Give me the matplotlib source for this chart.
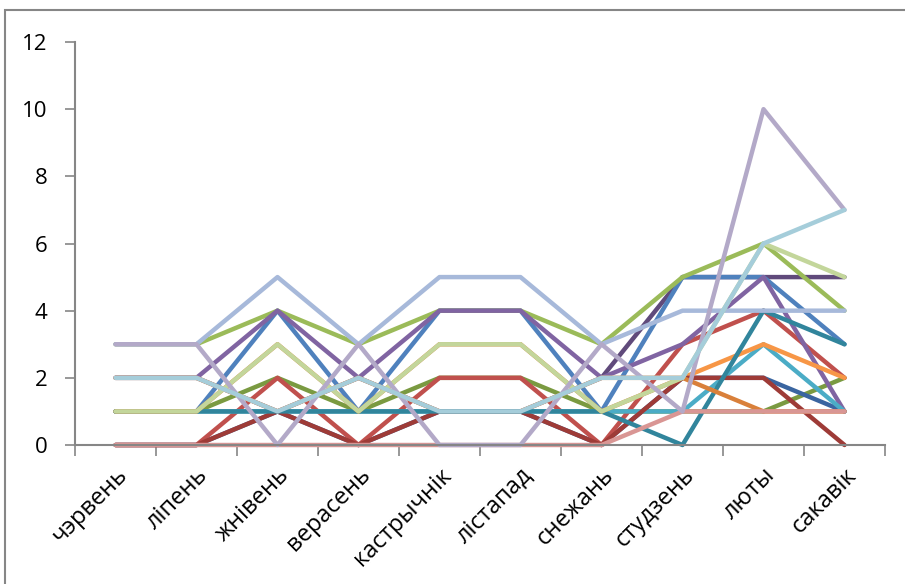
import matplotlib
matplotlib.use("Agg")
import matplotlib.pyplot as plt
from matplotlib.patches import Rectangle

plt.rcParams['font.family'] = ['Open Sans', 'DejaVu Sans']

months = ["чэрвень", "ліпень", "жнівень", "верасень", "кастрычнік",
          "лістапад", "снежань", "студзень", "люты", "сакавік"]

s_dkpurple   = [2, 2, 1, 2, 1, 1, 2, 5, 5, 5]
s_dkgreen    = [1, 1, 2, 1, 2, 2, 1, 1, 1, 2]
s_dkblue     = [0, 0, 1, 0, 1, 1, 0, 2, 2, 1]
s_blue       = [1, 1, 4, 1, 4, 4, 1, 5, 5, 3]
s_red        = [0, 0, 2, 0, 2, 2, 0, 3, 4, 2]
s_green      = [3, 3, 4, 3, 4, 4, 3, 5, 6, 4]
s_purple     = [2, 2, 4, 2, 4, 4, 2, 3, 5, 1]
s_aqua       = [1, 1, 1, 1, 1, 1, 1, 1, 3, 1]
s_orange     = [2, 2, 1, 2, 1, 1, 2, 2, 3, 2]
s_dkred      = [0, 0, 1, 0, 1, 1, 0, 2, 2, 0]
s_teal       = [1, 1, 1, 1, 1, 1, 1, 0, 4, 3]
s_dkorange   = [1, 1, 3, 1, 3, 3, 1, 2, 1, 1]
s_ltblue     = [3, 3, 5, 3, 5, 5, 3, 4, 4, 4]
s_pink       = [0, 0, 0, 0, 0, 0, 0, 1, 1, 1]
s_ltgreen    = [1, 1, 3, 1, 3, 3, 1, 2, 6, 5]
s_ltpurple   = [3, 3, 0, 3, 0, 0, 3, 1, 10, 7]
s_ltaqua     = [2, 2, 1, 2, 1, 1, 2, 2, 6, 7]

# drawing order: later ones on top
series = [s_dkpurple, s_dkgreen, s_dkblue, s_blue, s_red, s_green, s_purple,
          s_aqua, s_orange, s_dkred, s_teal, s_dkorange,
          s_ltblue, s_pink, s_ltgreen, s_ltpurple, s_ltaqua]
colors = ["#604A7B", "#7A9A41", "#3A65A0", "#4F81BD", "#C0504D", "#9BBB59",
          "#8064A2", "#4BACC6", "#F79646", "#9E3B37", "#31859C", "#D9803A",
          "#A7B9DA", "#D99694", "#C3D69B", "#B3A9C8", "#A5CDDA"]

fig = plt.figure(figsize=(9.05, 5.84), dpi=100)
ax = fig.add_axes([75 / 905, 1 - 445 / 584, 810 / 905, 403 / 584])

x = range(len(months))
for vals, c in zip(series, colors):
    ax.plot(x, vals, color=c, lw=3.2, solid_capstyle='round',
            solid_joinstyle='round', clip_on=False)

ax.set_xlim(-0.5, len(months) - 0.5)
ax.set_ylim(0, 12)
ax.set_yticks(range(0, 13, 2))
ax.tick_params(axis='y', labelsize=16, length=7, width=1.2, color='#868686', pad=13)

ax.set_xticks(x)
ax.set_xticklabels(months, rotation=45, ha='right', va='top',
                   rotation_mode='anchor', fontsize=17)
ax.tick_params(axis='x', length=0, pad=13)
# category boundary ticks
ax.set_xticks([i - 0.5 for i in range(len(months) + 1)], minor=True)
ax.tick_params(axis='x', which='minor', length=8, width=1.2, color='#868686')

for side in ['top', 'right']:
    ax.spines[side].set_visible(False)
for side in ['left', 'bottom']:
    ax.spines[side].set_color('#868686')
    ax.spines[side].set_linewidth(1.5)

# chart area border
fig.patches.append(Rectangle((5 / 905, -0.05), 1.2, 1 - 10 / 584 + 0.05,
                             transform=fig.transFigure, fill=False,
                             edgecolor='#868686', lw=1.5))

fig.savefig("out.png", dpi=100)
